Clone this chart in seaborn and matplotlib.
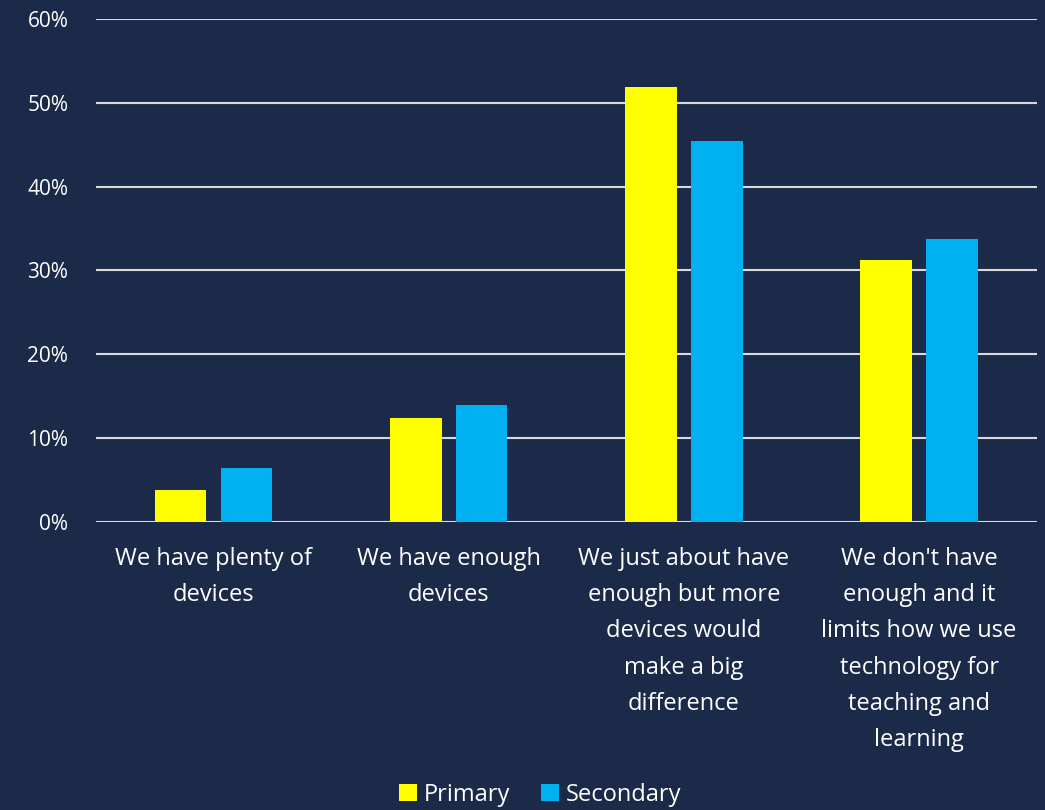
import matplotlib
matplotlib.use("Agg")
import matplotlib.pyplot as plt
import seaborn as sns
import pandas as pd
from matplotlib.patches import Patch
from matplotlib.ticker import FuncFormatter

categories = [
    "We have plenty of\ndevices",
    "We have enough\ndevices",
    "We just about have\nenough but more\ndevices would\nmake a big\ndifference",
    "We don't have\nenough and it\nlimits how we use\ntechnology for\nteaching and\nlearning",
]
series = ["Primary", "Secondary"]
primary = [3.8, 12.4, 51.9, 31.2]
secondary = [6.4, 14.0, 45.5, 33.7]
colors = {"Primary": "#FFFF00", "Secondary": "#00B0F0"}
yticks = [0, 10, 20, 30, 40, 50, 60]

bg = "#1C2A4A"
fg = "#FFFFFF"

df = pd.DataFrame({
    "cat": categories * 2,
    "series": ["Primary"] * 4 + ["Secondary"] * 4,
    "value": primary + secondary,
})

sns.set_theme(style="white")
plt.rcParams["font.family"] = ["Open Sans", "DejaVu Sans"]

fig = plt.figure(figsize=(10.45, 8.1), dpi=100, facecolor=bg)
ax = fig.add_axes([0.092, 0.3556, 0.9, 0.6209])
ax.set_facecolor(bg)

sns.barplot(data=df, x="cat", y="value", hue="series", order=categories,
            hue_order=series, palette=colors, width=0.56, gap=0.22,
            ax=ax, legend=False, saturation=1, linewidth=0)

ax.set_ylim(0, 60)
ax.set_xlim(-0.5, 3.5)
ax.set_yticks(yticks)
ax.yaxis.set_major_formatter(FuncFormatter(lambda v, p: f"{int(v)}%"))
ax.grid(axis="y", color="#D9D9D9", linewidth=1.5)
ax.set_axisbelow(True)
for s in ax.spines.values():
    s.set_visible(False)
ax.set_xlabel("")
ax.set_ylabel("")
ax.tick_params(axis="y", length=0, pad=20, labelsize=15, labelcolor=fg)
ax.tick_params(axis="x", length=0, pad=18, labelsize=17, labelcolor=fg)
for lbl in ax.get_xticklabels():
    lbl.set_linespacing(1.68)
    lbl.set_verticalalignment("top")

handles = [Patch(facecolor=colors[s], edgecolor="none", label=s) for s in series]
leg = fig.legend(handles=handles, loc="lower center", bbox_to_anchor=(0.517, -0.022),
                 ncol=2, frameon=False, fontsize=17, handlelength=0.75,
                 handleheight=0.75, handletextpad=0.3, columnspacing=1.3,
                 labelcolor=fg)

fig.savefig("out.png", dpi=100, facecolor=bg)
